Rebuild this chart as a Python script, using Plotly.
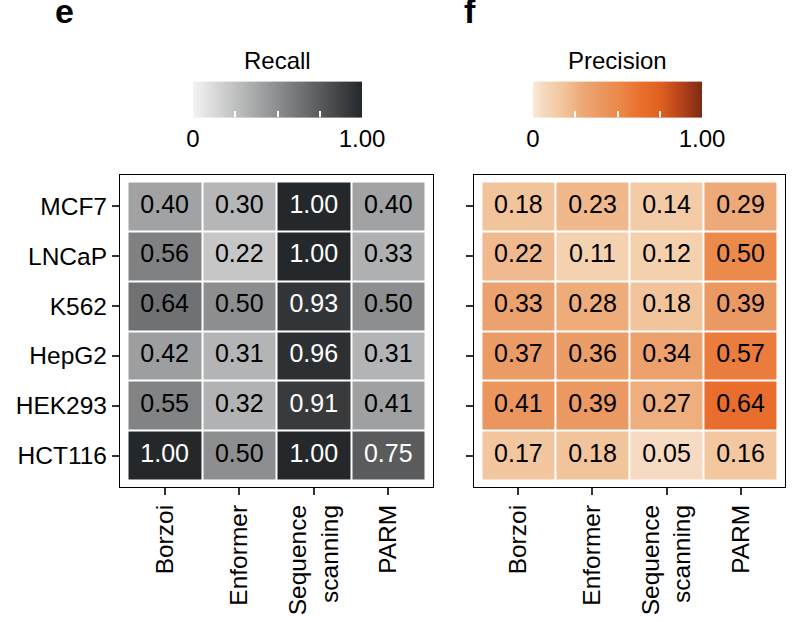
import plotly.graph_objects as go

cell_lines = ["MCF7", "LNCaP", "K562", "HepG2", "HEK293", "HCT116"]
methods = ["Borzoi", "Enformer", "Sequence<br>scanning", "PARM"]

recall = [
    [0.40, 0.30, 1.00, 0.40],
    [0.56, 0.22, 1.00, 0.33],
    [0.64, 0.50, 0.93, 0.50],
    [0.42, 0.31, 0.96, 0.31],
    [0.55, 0.32, 0.91, 0.41],
    [1.00, 0.50, 1.00, 0.75],
]
precision = [
    [0.18, 0.23, 0.14, 0.29],
    [0.22, 0.11, 0.12, 0.50],
    [0.33, 0.28, 0.18, 0.39],
    [0.37, 0.36, 0.34, 0.57],
    [0.41, 0.39, 0.27, 0.64],
    [0.17, 0.18, 0.05, 0.16],
]

FONT = "Liberation Sans, Arial, sans-serif"
W, H = 797, 622

grey_scale = [[0, "#f3f3f3"], [1, "#25282a"]]
orange_scale = [[0, "#fde9da"], [0.05, "#f6dbc2"], [0.12, "#f4d0ad"], [0.18, "#f2c49b"],
                [0.3, "#eda774"], [0.4, "#ea9760"], [0.5, "#eb8a4b"], [0.64, "#e96e2e"],
                [0.75, "#e0601f"], [0.88, "#b5421a"], [1, "#7a2b14"]]

xs = list(range(len(methods)))
ys = list(range(len(cell_lines)))

fig = go.Figure()


def add_panel(z, scale, xa, ya, cb_x, text_thresh):
    fig.add_trace(go.Heatmap(
        z=z, x=xs, y=ys, colorscale=scale, zmin=0, zmax=1, xgap=2, ygap=2,
        xaxis=xa, yaxis=ya, hoverinfo="skip",
        colorbar=dict(
            orientation="h", x=cb_x, xanchor="center", y=1 - 120 / H, yanchor="middle",
            len=169, lenmode="pixels", thickness=36, thicknessmode="pixels",
            xpad=0, ypad=0, outlinewidth=0,
            tickvals=[0, 0.25, 0.5, 0.75, 1], ticktext=["0", "", "", "", "1.00"],
            ticks="inside", tickcolor="white", ticklen=6, tickwidth=1.5,
            tickfont=dict(size=24, family=FONT, color="black"),
        ),
    ))
    tx, ty, tt, tc = [], [], [], []
    for i, row in enumerate(z):
        for j, v in enumerate(row):
            tx.append(j)
            ty.append(i)
            tt.append(f"{v:.2f}")
            tc.append("white" if v >= text_thresh else "black")
    fig.add_trace(go.Scatter(
        x=tx, y=ty, text=tt, mode="text", xaxis=xa, yaxis=ya, hoverinfo="skip",
        textfont=dict(size=25, family=FONT, color=tc), showlegend=False,
    ))


add_panel(recall, grey_scale, "x", "y", 277.5 / W, 0.7)
add_panel(precision, orange_scale, "x2", "y2", 617.5 / W, 2)

ydom = [1 - 487 / H, 1 - 175 / H]
axis_common = dict(showline=True, mirror=True, linecolor="black", linewidth=1.2,
                   ticks="outside", ticklen=7, tickwidth=1.5, tickcolor="#333",
                   showgrid=False, zeroline=False, fixedrange=True,
                   tickfont=dict(size=24.5, family=FONT, color="black"))


def ann(text, xpx, ypx, size, bold=False):
    return dict(text=f"<b>{text}</b>" if bold else text, x=xpx / W, y=1 - ypx / H,
                xref="paper", yref="paper", showarrow=False,
                xanchor="center", yanchor="middle",
                font=dict(size=size, family=FONT, color="black"))


fig.update_layout(
    width=W, height=H, margin=dict(l=0, r=0, t=0, b=0),
    paper_bgcolor="white", plot_bgcolor="white", showlegend=False,
    xaxis=dict(domain=[120 / W, 433 / W], range=[-0.6, 3.6], tickvals=xs, ticktext=methods,
               tickangle=-90, anchor="y", **axis_common),
    yaxis=dict(domain=ydom, range=[5.63, -0.63], tickvals=ys, ticktext=cell_lines,
               anchor="x", **axis_common),
    xaxis2=dict(domain=[474 / W, 785 / W], range=[-0.6, 3.6], tickvals=xs, ticktext=methods,
                tickangle=-90, anchor="y2", **axis_common),
    yaxis2=dict(domain=ydom, range=[5.63, -0.63], tickvals=ys, ticktext=[""] * len(ys),
                anchor="x2", **axis_common),
    annotations=[
        ann("e", 64.5, 11, 34, bold=True),
        ann("f", 470, 11, 34, bold=True),
        ann("Recall", 277.5, 60, 24),
        ann("Precision", 617.5, 60, 24),
    ],
)

fig.write_html("out.html", config={"displayModeBar": False},
               post_script="document.body.style.margin='0';document.body.style.overflow='hidden';")
